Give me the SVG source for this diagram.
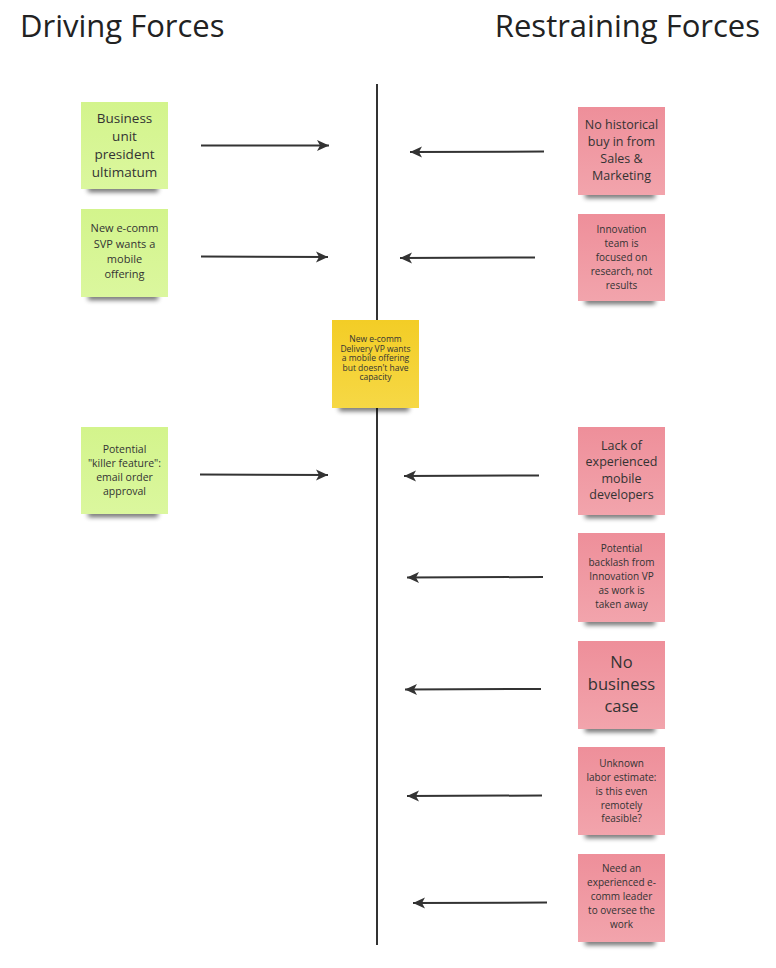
<svg xmlns="http://www.w3.org/2000/svg" width="776" height="968" viewBox="0 0 776 968">
<defs>
<linearGradient id="gGreen" x1="0" y1="0" x2="0" y2="1"><stop offset="0" stop-color="#d3f48c"/><stop offset="1" stop-color="#dbf79e"/></linearGradient>
<linearGradient id="gPink" x1="0" y1="0" x2="0" y2="1"><stop offset="0" stop-color="#ee8f9a"/><stop offset="1" stop-color="#f2a4ac"/></linearGradient>
<linearGradient id="gYellow" x1="0" y1="0" x2="0" y2="1"><stop offset="0" stop-color="#f3cd26"/><stop offset="1" stop-color="#f6d845"/></linearGradient>
<filter id="blur" x="-20%" y="-100%" width="140%" height="300%"><feGaussianBlur stdDeviation="2.5"/></filter>
<marker id="arr" markerUnits="userSpaceOnUse" markerWidth="14" markerHeight="14" viewBox="0 0 14 14" refX="13" refY="7" orient="auto">
<path d="M1,1.5 L13,7 L1,12.5 L4,7 Z" fill="#333"/>
</marker>
</defs>
<style>
.title{font-family:"Open Sans","Liberation Sans",sans-serif;font-size:31px;fill:#222}
.t{font-family:"Open Sans","Liberation Sans",sans-serif;fill:#333;text-anchor:middle}
.sh{fill:#000;opacity:0.6;filter:url(#blur)}
.green{fill:url(#gGreen)}
.pink{fill:url(#gPink)}
.yellow{fill:url(#gYellow)}
.conn{stroke:#333;stroke-width:2;fill:none;marker-end:url(#arr)}
</style>
<rect width="776" height="968" fill="#fff"/>
<text class="title" x="20" y="37">Driving Forces</text>
<text class="title" x="760" y="37" text-anchor="end">Restraining Forces</text>
<line x1="377" y1="84" x2="377" y2="945" stroke="#333" stroke-width="2"/>

<g id="connectors">
<line class="conn" x1="201" y1="145.5" x2="329" y2="145.5"/>
<line class="conn" x1="201" y1="256.5" x2="328" y2="257"/>
<line class="conn" x1="200" y1="474.5" x2="328" y2="475"/>
<line class="conn" x1="544" y1="151.5" x2="410" y2="152"/>
<line class="conn" x1="535" y1="257.5" x2="400" y2="258"/>
<line class="conn" x1="539" y1="475.5" x2="404" y2="476"/>
<line class="conn" x1="543" y1="577" x2="407" y2="577.5"/>
<line class="conn" x1="541" y1="689" x2="405" y2="689.5"/>
<line class="conn" x1="542" y1="795.5" x2="407" y2="796"/>
<line class="conn" x1="547" y1="902.5" x2="413" y2="903"/>
</g>

<g id="d1">
<rect class="sh" x="88" y="186" width="70" height="6"/>
<rect class="green" x="81" y="102" width="87" height="87"/>
<text class="t" font-size="13.5"><tspan x="124.5" y="123">Business</tspan><tspan x="124.5" y="141">unit</tspan><tspan x="124.5" y="159">president</tspan><tspan x="124.5" y="177">ultimatum</tspan></text>
</g>
<g id="d2">
<rect class="sh" x="88" y="294" width="70" height="6"/>
<rect class="green" x="81" y="209" width="87" height="88"/>
<text class="t" font-size="11"><tspan x="124.5" y="232">New e-comm</tspan><tspan x="124.5" y="247.5">SVP wants a</tspan><tspan x="124.5" y="263">mobile</tspan><tspan x="124.5" y="278">offering</tspan></text>
</g>
<g id="d3">
<rect class="sh" x="88" y="511" width="70" height="6"/>
<rect class="green" x="81" y="427" width="87" height="87"/>
<text class="t" font-size="10.5"><tspan x="124.5" y="453">Potential</tspan><tspan x="124.5" y="467">"killer feature":</tspan><tspan x="124.5" y="481">email order</tspan><tspan x="124.5" y="495">approval</tspan></text>
</g>
<g id="center">
<rect class="sh" x="339" y="405" width="70" height="6"/>
<rect class="yellow" x="332" y="320" width="87" height="88"/>
<text class="t" font-size="8.5"><tspan x="375.5" y="342">New e-comm</tspan><tspan x="375.5" y="351.5">Delivery VP wants</tspan><tspan x="375.5" y="361">a mobile offering</tspan><tspan x="375.5" y="370.5">but doesn't have</tspan><tspan x="375.5" y="380">capacity</tspan></text>
</g>

<g id="r1">
<rect class="sh" x="585" y="192" width="70" height="6"/>
<rect class="pink" x="578" y="107" width="87" height="88"/>
<text class="t" font-size="12.5"><tspan x="621.5" y="128.5">No historical</tspan><tspan x="621.5" y="145.5">buy in from</tspan><tspan x="621.5" y="162.5">Sales &amp;</tspan><tspan x="621.5" y="179.5">Marketing</tspan></text>
</g>
<g id="r2">
<rect class="sh" x="585" y="298" width="70" height="6"/>
<rect class="pink" x="578" y="214" width="87" height="87"/>
<text class="t" font-size="10"><tspan x="621.5" y="232.5">Innovation</tspan><tspan x="621.5" y="246.5">team is</tspan><tspan x="621.5" y="260.5">focused on</tspan><tspan x="621.5" y="274.5">research, not</tspan><tspan x="621.5" y="288.5">results</tspan></text>
</g>
<g id="r3">
<rect class="sh" x="585" y="512" width="70" height="6"/>
<rect class="pink" x="578" y="427" width="87" height="88"/>
<text class="t" font-size="12.5"><tspan x="621.5" y="449.5">Lack of</tspan><tspan x="621.5" y="466">experienced</tspan><tspan x="621.5" y="482.5">mobile</tspan><tspan x="621.5" y="499">developers</tspan></text>
</g>
<g id="r4">
<rect class="sh" x="585" y="619" width="70" height="6"/>
<rect class="pink" x="578" y="533" width="87" height="89"/>
<text class="t" font-size="10"><tspan x="621.5" y="551.5">Potential</tspan><tspan x="621.5" y="565.5">backlash from</tspan><tspan x="621.5" y="579.5">Innovation VP</tspan><tspan x="621.5" y="593.5">as work is</tspan><tspan x="621.5" y="607.5">taken away</tspan></text>
</g>
<g id="r5">
<rect class="sh" x="585" y="726" width="70" height="6"/>
<rect class="pink" x="578" y="641" width="87" height="88"/>
<text class="t" font-size="16.5"><tspan x="621.5" y="668">No</tspan><tspan x="621.5" y="690">business</tspan><tspan x="621.5" y="712">case</tspan></text>
</g>
<g id="r6">
<rect class="sh" x="585" y="832" width="70" height="6"/>
<rect class="pink" x="578" y="747" width="87" height="88"/>
<text class="t" font-size="10"><tspan x="621.5" y="766.5">Unknown</tspan><tspan x="621.5" y="780.5">labor estimate:</tspan><tspan x="621.5" y="794.5">is this even</tspan><tspan x="621.5" y="808.5">remotely</tspan><tspan x="621.5" y="822">feasible?</tspan></text>
</g>
<g id="r7">
<rect class="sh" x="585" y="939" width="70" height="6"/>
<rect class="pink" x="578" y="854" width="87" height="88"/>
<text class="t" font-size="10"><tspan x="621.5" y="871.5">Need an</tspan><tspan x="621.5" y="885.5">experienced e-</tspan><tspan x="621.5" y="899.5">comm leader</tspan><tspan x="621.5" y="913.5">to oversee the</tspan><tspan x="621.5" y="928">work</tspan></text>
</g>
</svg>
